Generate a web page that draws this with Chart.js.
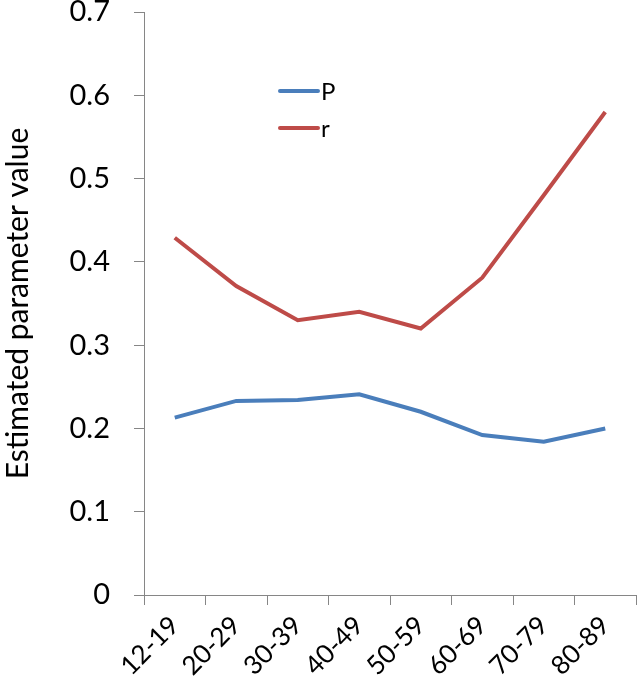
<!DOCTYPE html>
<html>
<head>
    <meta charset="UTF-8">
    <title>Estimated parameter value</title>
    <script src="https://cdn.jsdelivr.net/npm/chart.js"></script>
    <style>
        html, body { margin: 0; padding: 0; background: #fff; }
        #wrap { width: 637px; height: 682px; }
    </style>
</head>
<body>
    <div id="wrap"><canvas id="chart" width="637" height="682"></canvas></div>

    <script>
        // Data
        var ageGroups = ['12-19', '20-29', '30-39', '40-49', '50-59', '60-69', '70-79', '80-89'];
        var pValues = [0.213, 0.233, 0.234, 0.241, 0.220, 0.192, 0.184, 0.200];
        var rValues = [0.429, 0.371, 0.330, 0.340, 0.320, 0.381, 0.480, 0.580];
        var yTickLabels = ['0', '0.1', '0.2', '0.3', '0.4', '0.5', '0.6', '0.7'];

        var axisGrey = '#868686';
        var fontFamily = 'Lato, "Liberation Sans", sans-serif';

        // legend drawn inside the plot, like the original
        var innerLegend = {
            id: 'innerLegend',
            afterDraw: function(chart) {
                var ctx = chart.ctx;
                var x = 280, y = 91, gap = 37;
                ctx.save();
                ctx.font = '24px ' + fontFamily;
                ctx.textBaseline = 'middle';
                chart.data.datasets.forEach(function(ds, i) {
                    var yy = y + i * gap;
                    ctx.strokeStyle = ds.borderColor;
                    ctx.lineWidth = 4;
                    ctx.lineCap = 'round';
                    ctx.beginPath();
                    ctx.moveTo(x, yy);
                    ctx.lineTo(x + 38, yy);
                    ctx.stroke();
                    ctx.fillStyle = '#000';
                    ctx.fillText(ds.label, x + 41, yy + 1);
                });
                ctx.restore();
            }
        };

        var ctx = document.getElementById('chart').getContext('2d');
        var chart = new Chart(ctx, {
            type: 'line',
            data: {
                labels: ageGroups,
                datasets: [{
                    label: 'P',
                    data: pValues,
                    borderColor: '#4A7EBB',
                    borderWidth: 4,
                    pointRadius: 0,
                    fill: false,
                    tension: 0
                }, {
                    label: 'r',
                    data: rValues,
                    borderColor: '#BE4B48',
                    borderWidth: 4,
                    pointRadius: 0,
                    fill: false,
                    tension: 0
                }]
            },
            options: {
                responsive: false,
                animation: false,
                layout: { padding: { top: 12, right: 1, left: 0, bottom: 0 } },
                plugins: {
                    legend: { display: false },
                    tooltip: { enabled: false }
                },
                scales: {
                    x: {
                        offset: true,
                        grid: {
                            display: true,
                            offset: true,
                            drawOnChartArea: false,
                            color: axisGrey,
                            tickLength: 10,
                            lineWidth: 1
                        },
                        border: { color: axisGrey, width: 1 },
                        ticks: {
                            color: '#000',
                            font: { family: fontFamily, size: 26 },
                            maxRotation: 45,
                            minRotation: 45,
                            padding: 5,
                            autoSkip: false
                        },
                        afterFit: function(scale) {
                            scale.height = 87;
                            scale.paddingLeft = 0;
                            scale.paddingRight = 0;
                        }
                    },
                    y: {
                        min: 0,
                        max: 0.7,
                        ticks: {
                            stepSize: 0.1,
                            color: '#000',
                            font: { family: fontFamily, size: 29 },
                            padding: 24,
                            callback: function(value, index) { return yTickLabels[index]; }
                        },
                        grid: {
                            display: true,
                            drawOnChartArea: false,
                            color: axisGrey,
                            tickLength: 10
                        },
                        border: { color: axisGrey, width: 1 },
                        title: {
                            display: true,
                            text: 'Estimated parameter value',
                            color: '#000',
                            font: { family: fontFamily, size: 30 },
                            padding: { top: 0, bottom: 0 }
                        },
                        afterFit: function(scale) {
                            scale.width = 144;
                            scale.paddingTop = 0;
                            scale.paddingBottom = 0;
                        }
                    }
                }
            },
            plugins: [innerLegend]
        });
    </script>
</body>
</html>
